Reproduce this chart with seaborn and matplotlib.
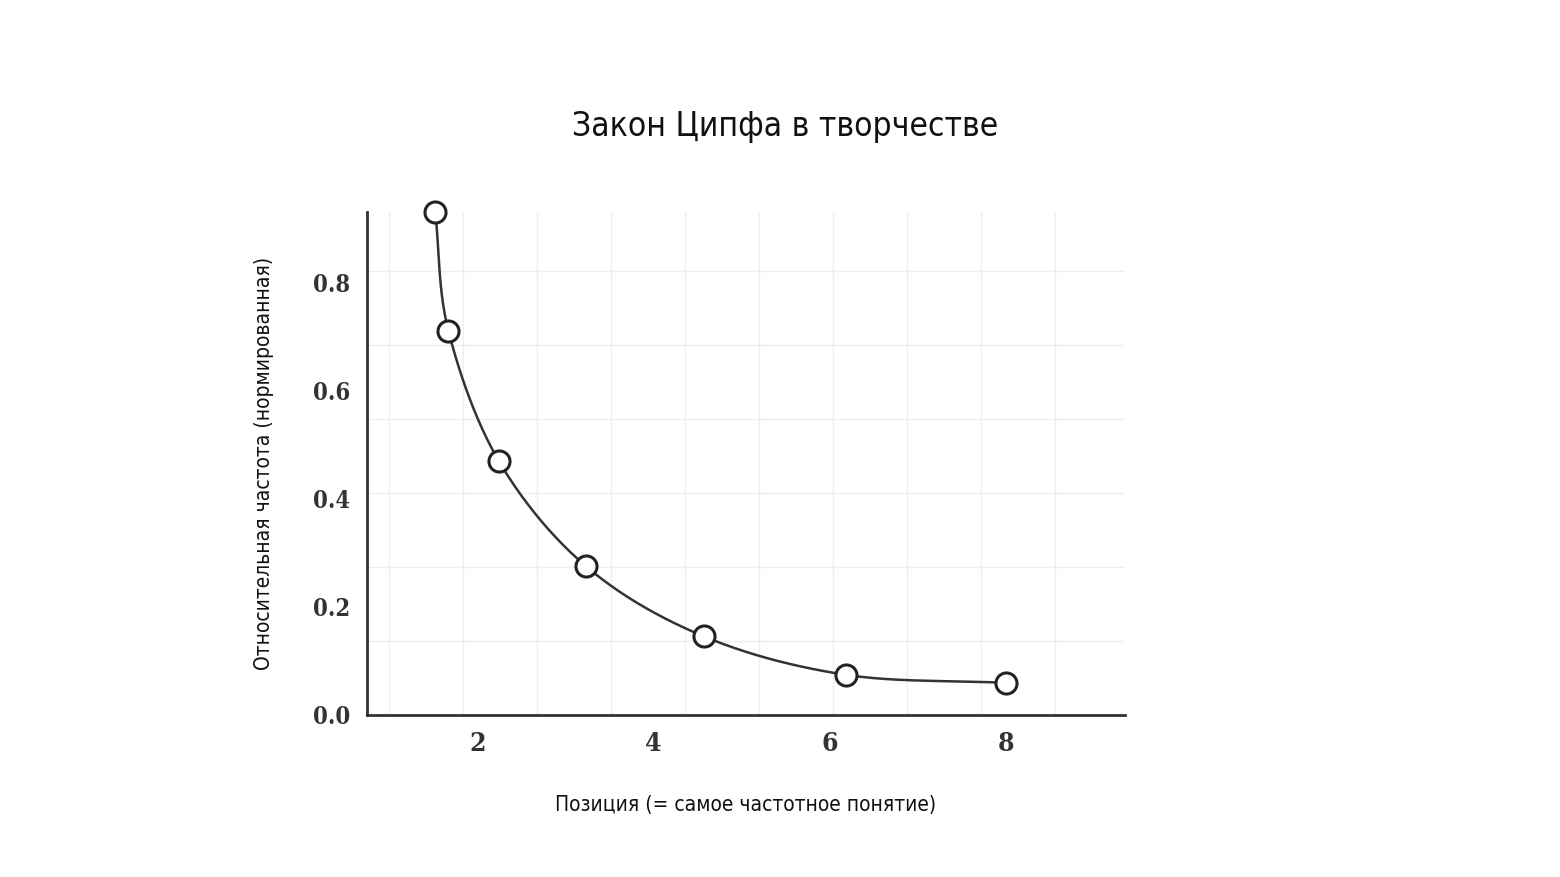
import numpy as np
import matplotlib.pyplot as plt
import seaborn as sns

sns.set_theme(style="white")
plt.rcParams['font.family'] = ['DejaVu Sans']
plt.rcParams['font.stretch'] = 'condensed'

rank = [1.52, 1.67, 2.24, 3.23, 4.57, 6.18, 8.0]
freq = [0.93, 0.71, 0.47, 0.275, 0.145, 0.074, 0.059]
xticks = [2, 4, 6, 8]
yticks = [0.0, 0.2, 0.4, 0.6, 0.8]


def catmull_rom(xs, ys, n=40):
    # smooth curve through the points
    p = np.column_stack([xs, ys])
    p = np.vstack([2 * p[0] - p[1], p, 2 * p[-1] - p[-2]])
    out = []
    t = np.linspace(0, 1, n)[:, None]
    for i in range(1, len(p) - 2):
        p0, p1, p2, p3 = p[i - 1], p[i], p[i + 1], p[i + 2]
        seg = 0.5 * (2 * p1 + (-p0 + p2) * t + (2 * p0 - 5 * p1 + 4 * p2 - p3) * t ** 2
                     + (-p0 + 3 * p1 - 3 * p2 + p3) * t ** 3)
        out.append(seg)
    out = np.vstack(out)
    return out[:, 0], out[:, 1]


fig = plt.figure(figsize=(15.6, 8.77), dpi=100)
ax = fig.add_axes([0.235, 0.185, 0.486, 0.573])

cx, cy = catmull_rom(rank, freq)
ax.plot(cx, cy, color="#333333", lw=1.8, zorder=2)
sns.scatterplot(x=rank, y=freq, ax=ax, s=230, facecolor="white", edgecolor="#222222",
                linewidth=2.2, zorder=3, clip_on=False)

ax.set_xlim(0.74, 9.35)
ax.set_ylim(0, 0.93)
ax.set_xticks(xticks)
ax.set_yticks(yticks)
ax.set_xticklabels([str(v) for v in xticks], family="DejaVu Serif", fontsize=19, fontweight="bold", color="#333333")
ax.set_yticklabels([f"{v:.1f}" for v in yticks], family="DejaVu Serif", fontsize=17, fontweight="bold", color="#333333")
ax.tick_params(length=0, pad=12)

ax.set_xticks(np.arange(1.0, 9.4, 0.84), minor=True)
ax.set_yticks(np.arange(0.0, 0.93, 0.137), minor=True)
ax.grid(which="minor", color="#eeeeee", lw=1)
ax.grid(which="major", visible=False)
for s in ["top", "right"]:
    ax.spines[s].set_visible(False)
for s in ["left", "bottom"]:
    ax.spines[s].set_color("#333333")
    ax.spines[s].set_linewidth(2)

ax.set_xlabel("Позиция (= самое частотное понятие)", fontsize=15, color="#111111", labelpad=28)
ax.set_ylabel("Относительная частота (нормированная)", fontsize=15, color="#111111", labelpad=28)
fig.text(0.503, 0.845, "Закон Ципфа в творчестве", ha="center", fontsize=24, color="#111111")

fig.savefig("out.png", dpi=100)
